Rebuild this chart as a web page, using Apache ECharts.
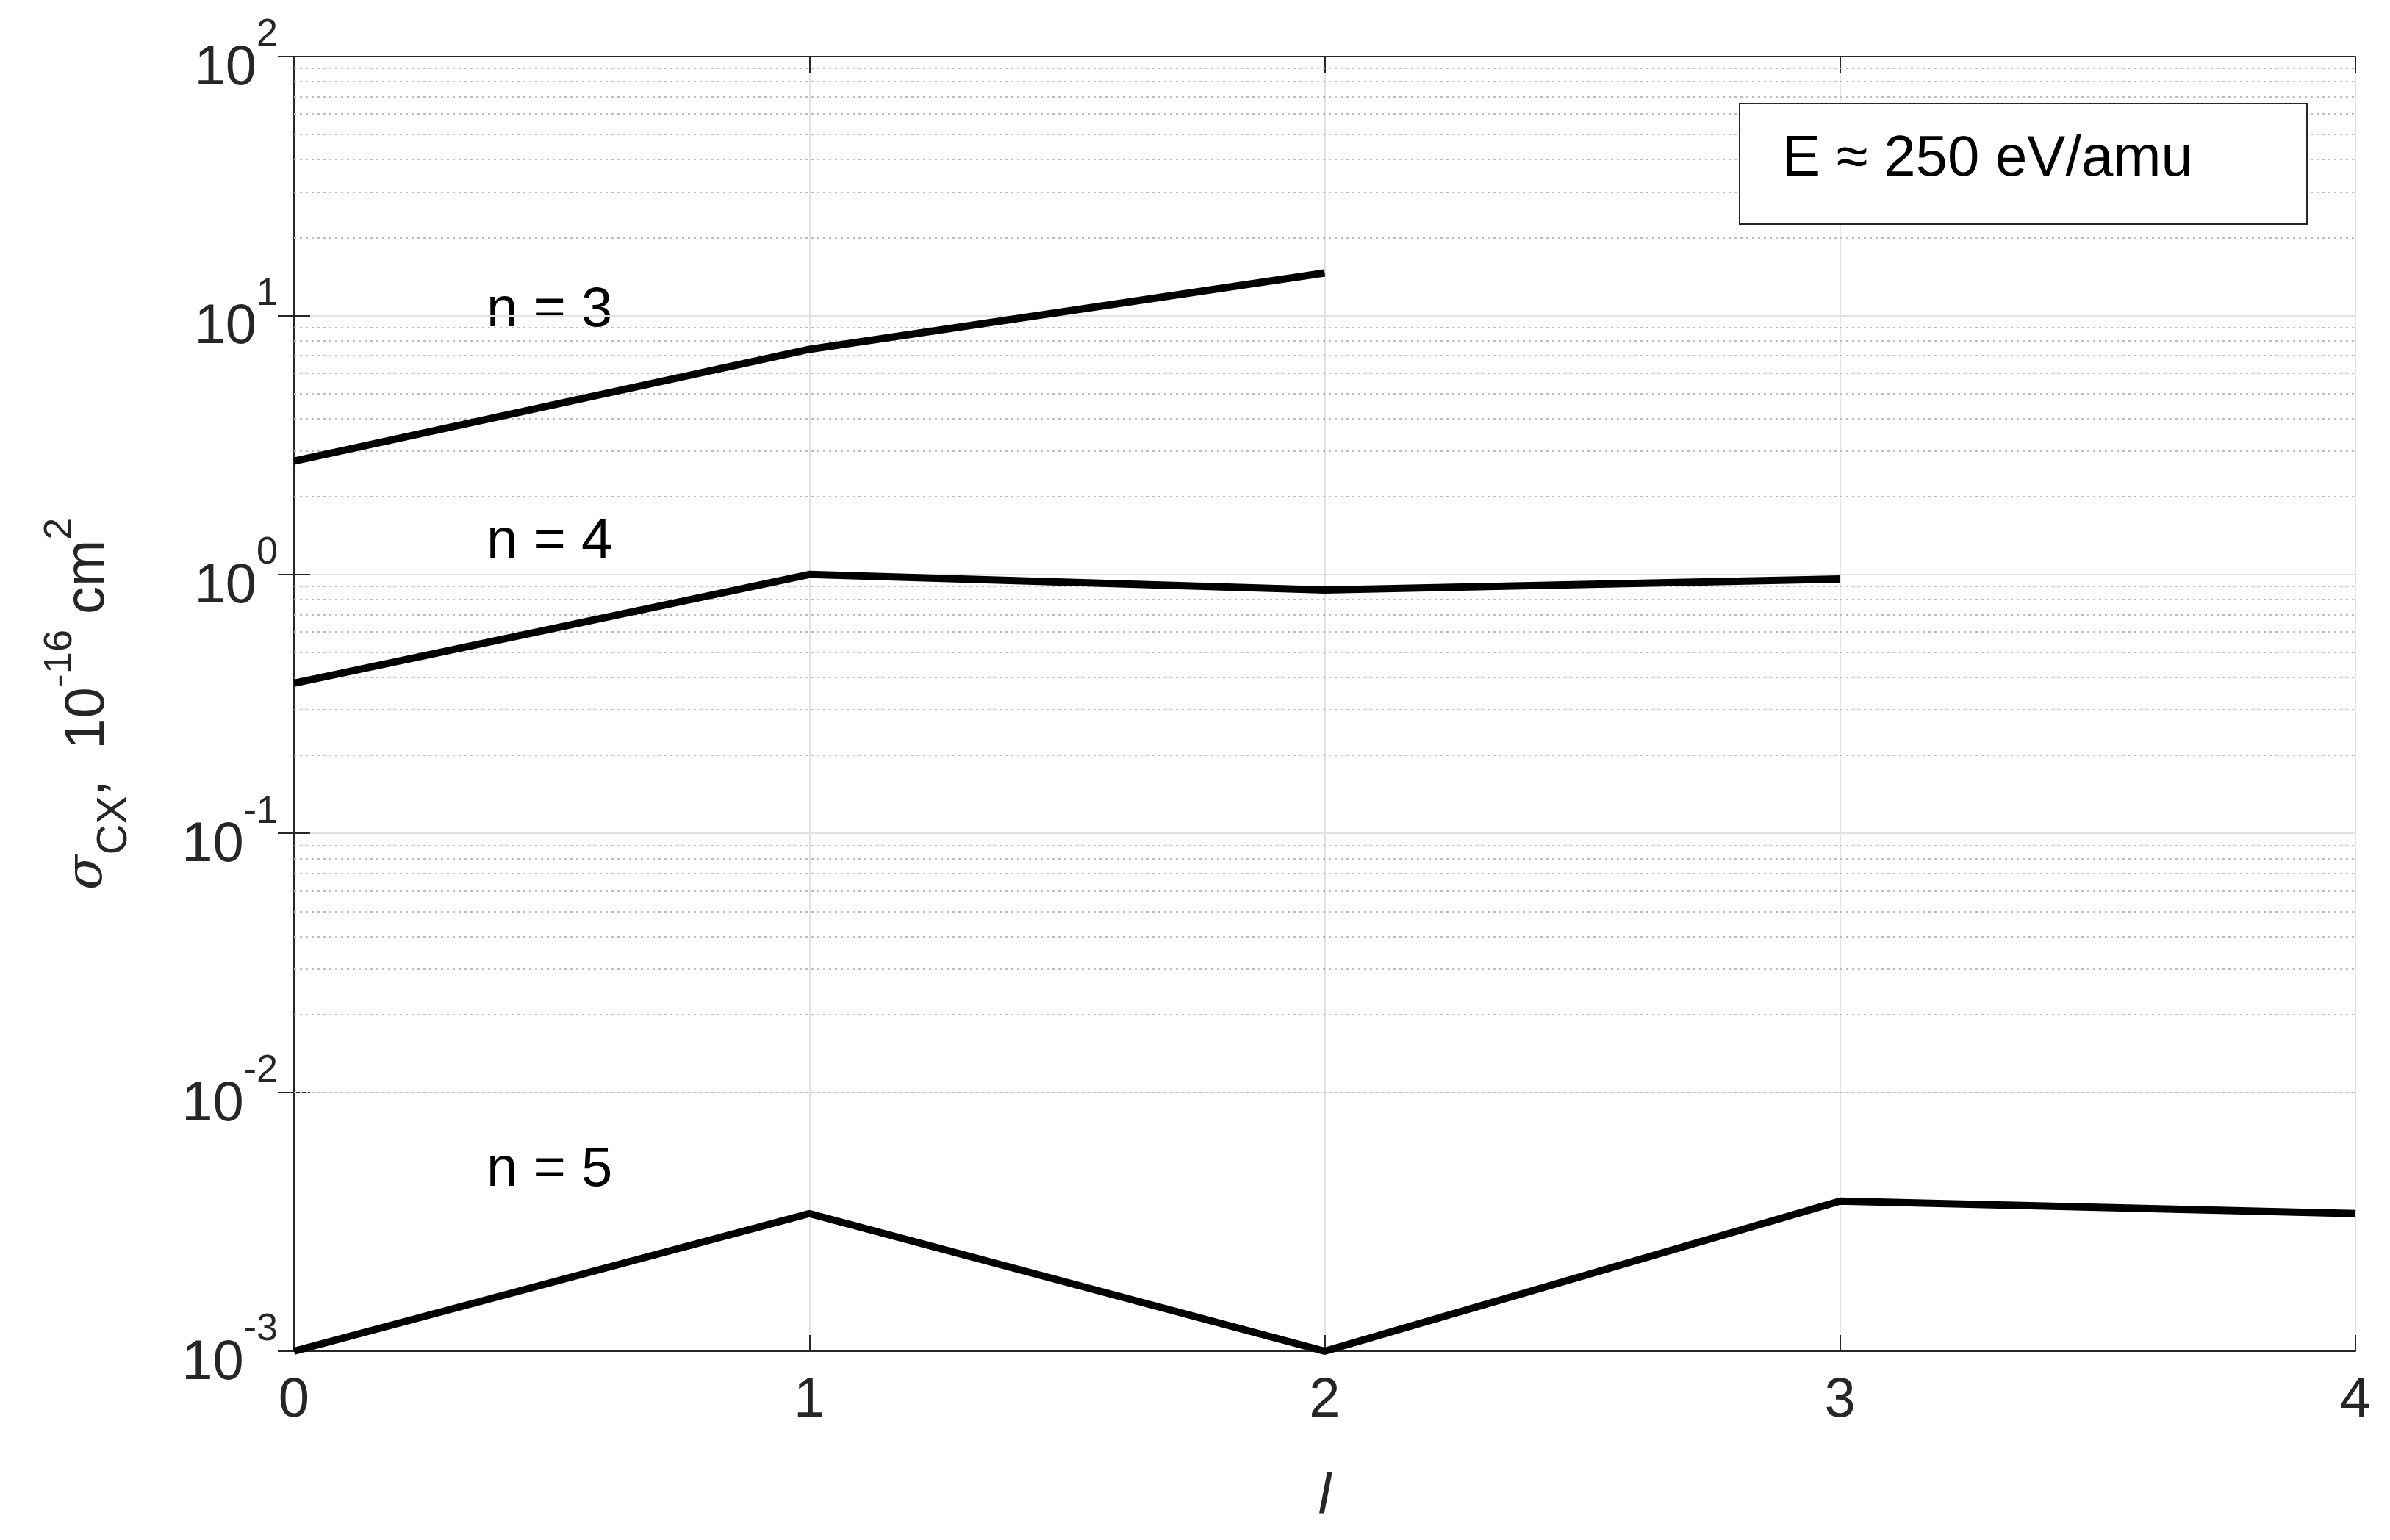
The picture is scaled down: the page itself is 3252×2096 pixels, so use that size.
<!DOCTYPE html>
<html>
<head>
<meta charset="utf-8">
<script src="https://cdn.jsdelivr.net/npm/echarts@6/dist/echarts.min.js"></script>
<style>html,body{margin:0;padding:0;background:#fff}#chart{width:3252px;height:2096px}</style>
</head>
<body>
<div id="chart"></div>
<script>
const lValues = [0, 1, 2, 3, 4];
const n3 = [2.74, 7.4, 14.6];
const n4 = [0.38, 1.0, 0.87, 0.96];
const n5 = [0.001, 0.0034, 0.001, 0.0038, 0.0034];
const decades = [-3, -2, -1, 0, 1, 2];

// minor grid values 2..9 x 10^k
const minorVals = [];
decades.slice(0, -1).forEach((k) => {
  for (let m = 2; m <= 9; m++) minorVals.push(m * Math.pow(10, k));
});

const font = "Liberation Sans, Arial, sans-serif";
const ink = "#262626";
const chart = echarts.init(document.getElementById("chart"));

const toPts = (arr) => arr.map((v, i) => [lValues[i], v]);
const lineSeries = (data) => ({
  type: "line",
  data: toPts(data),
  symbol: "none",
  lineStyle: { color: "#000", width: 10 },
  z: 5,
});
const frameLine = { show: true, lineStyle: { color: ink, width: 2 } };
const tick = { inside: true, length: 22, lineStyle: { color: ink, width: 2 } };

chart.setOption({
  animation: false,
  grid: { left: 400, right: 47, top: 77, bottom: 257 },
  xAxis: [
    {
      type: "value", min: 0, max: 4, interval: 1,
      axisLine: frameLine,
      axisTick: tick,
      axisLabel: { fontSize: 76, color: ink, fontFamily: font, margin: 30 },
      splitLine: { show: true, lineStyle: { color: "#e2e2e2", width: 2 } },
      name: "l",
      nameLocation: "middle",
      nameGap: 160,
      nameTextStyle: { fontSize: 78, fontStyle: "italic", color: ink, fontFamily: font },
    },
    {
      type: "value", min: 0, max: 4, interval: 1, position: "top",
      axisLine: frameLine, axisTick: tick, axisLabel: { show: false }, splitLine: { show: false },
    },
  ],
  yAxis: [
    {
      type: "log", logBase: 10, min: 0.001, max: 100,
      axisLine: frameLine,
      axisTick: tick,
      splitLine: { show: true, lineStyle: { color: "#e2e2e2", width: 2 } },
      axisLabel: {
        margin: 22,
        formatter: (v) => "{b|10}{s|" + Math.round(Math.log10(v)) + "}",
        rich: {
          b: { fontSize: 76, color: ink, fontFamily: font, verticalAlign: "bottom", lineHeight: 110 },
          s: { fontSize: 52, color: ink, fontFamily: font, verticalAlign: "top", lineHeight: 110 },
        },
      },
      name: "{a|σ}{sub|CX}{t|,  10}{sup|-16}{t| cm}{sup|2}",
      nameLocation: "middle",
      nameRotate: 90,
      nameGap: 215,
      nameTextStyle: {
        rich: {
          a: { fontSize: 70, color: ink, fontFamily: "DejaVu Serif", fontStyle: "italic", verticalAlign: "middle", lineHeight: 130 },
          sub: { fontSize: 58, color: ink, fontFamily: font, verticalAlign: "bottom", lineHeight: 130 },
          t: { fontSize: 76, color: ink, fontFamily: font, verticalAlign: "middle", lineHeight: 130 },
          sup: { fontSize: 54, color: ink, fontFamily: font, verticalAlign: "top", lineHeight: 130 },
        },
      },
    },
    {
      type: "log", logBase: 10, min: 0.001, max: 100, position: "right",
      axisLine: frameLine, axisTick: tick, axisLabel: { show: false }, splitLine: { show: false },
    },
  ],
  series: [
    {
      type: "line",
      data: [],
      markLine: {
        silent: true,
        symbol: "none",
        label: { show: false },
        lineStyle: { color: "#bdbdbd", type: [3, 5], width: 2 },
        data: minorVals.map((v) => ({ yAxis: v })),
      },
    },
    lineSeries(n3),
    lineSeries(n4),
    lineSeries(n5),
  ],
  graphic: [
    { type: "text", left: 662, top: 385, style: { text: "n = 3", fontSize: 76, fill: "#000", fontFamily: font } },
    { type: "text", left: 662, top: 700, style: { text: "n = 4", fontSize: 76, fill: "#000", fontFamily: font } },
    { type: "text", left: 662, top: 1555, style: { text: "n = 5", fontSize: 76, fill: "#000", fontFamily: font } },
    {
      type: "rect", left: 2366, top: 140, z: 10,
      shape: { width: 772, height: 164 },
      style: { fill: "#fff", stroke: ink, lineWidth: 2 },
    },
    {
      type: "text", left: 2425, top: 178, z: 11,
      style: { text: "E ≈ 250 eV/amu", fontSize: 78, fill: "#000", fontFamily: font },
    },
  ],
});
</script>
</body>
</html>
